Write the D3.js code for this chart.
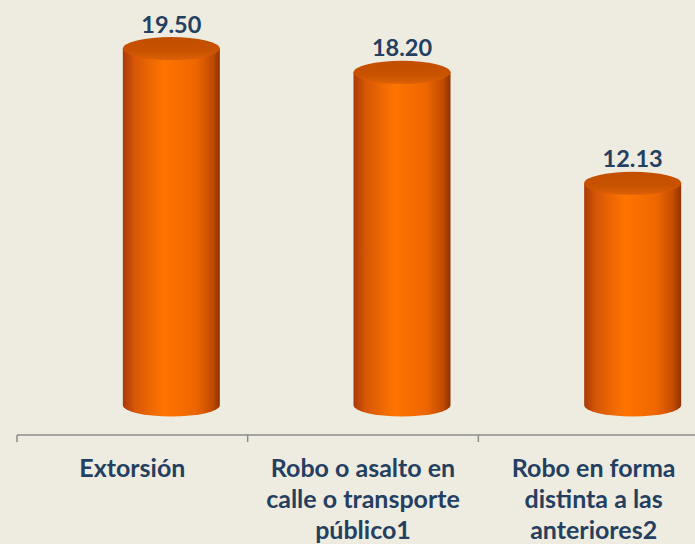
<!DOCTYPE html>
<html>
<head>
<meta charset="utf-8">
<script src="https://cdn.jsdelivr.net/npm/d3@7"></script>
<style>
  html, body { margin: 0; padding: 0; background: #EEEBE0; }
  svg { display: block; }
  .value { font-family: Lato, sans-serif; font-weight: bold; font-size: 23.5px; fill: #243F60; }
  .cat { font-family: Lato, sans-serif; font-weight: bold; font-size: 25px; fill: #243F60; }
</style>
</head>
<body>
<div id="chart"></div>
<script>
var width = 695,
    height = 544;

// data
var categories = ['Extorsión', 'Robo o asalto en calle o transporte público1', 'Robo en forma distinta a las anteriores2'];
var values = [19.50, 18.20, 12.13];
var catLines = [
    ['Extorsión'],
    ['Robo o asalto en', 'calle o transporte', 'público1'],
    ['Robo en forma', 'distinta a las', 'anteriores2']
];

var data = categories.map((c, i) => ({ cat: c, value: values[i], lines: catLines[i] }));

var svg = d3.select('#chart')
    .append('svg')
    .attr('width', width)
    .attr('height', height);

svg.append('rect')
    .attr('width', width)
    .attr('height', height)
    .attr('fill', '#EEEBE0');

var x = d3.scaleBand()
    .domain(categories)
    .range([17, 709])
    .padding(0);

var y = d3.scaleLinear()
    .domain([0, 20])
    .range([405, 39.4]);

var barW = 97,
    rx = barW / 2,
    ry = 11.5,
    shift = 39;   // 3d perspective offset of the cylinders

var cx = d => x(d.cat) + x.bandwidth() / 2 + shift;

var defs = svg.append('defs');

var sideGrad = defs.append('linearGradient')
    .attr('id', 'side')
    .attr('x1', '0%').attr('x2', '100%')
    .attr('y1', '0%').attr('y2', '0%');
[[0, '#A83A08'], [0.12, '#D65606'], [0.42, '#FF7400'], [0.75, '#EE6600'], [0.92, '#C24C00'], [1, '#8E3204']]
    .forEach(s => sideGrad.append('stop').attr('offset', s[0]).attr('stop-color', s[1]));

var topGrad = defs.append('linearGradient')
    .attr('id', 'topcap')
    .attr('x1', '0%').attr('x2', '0%')
    .attr('y1', '0%').attr('y2', '100%');
[[0, '#C24E00'], [0.6, '#C85200'], [1, '#DC6008']]
    .forEach(s => topGrad.append('stop').attr('offset', s[0]).attr('stop-color', s[1]));

var bars = svg.selectAll('g.bar')
    .data(data)
    .enter()
    .append('g')
    .attr('class', 'bar');

bars.append('path')
    .attr('fill', 'url(#side)')
    .attr('d', d => {
        var l = cx(d) - rx, r = cx(d) + rx, t = y(d.value), b = y(0);
        return 'M' + l + ',' + t + 'L' + l + ',' + b +
            'A' + rx + ',' + ry + ' 0 0 0 ' + r + ',' + b +
            'L' + r + ',' + t + 'Z';
    });

bars.append('ellipse')
    .attr('cx', cx)
    .attr('cy', d => y(d.value))
    .attr('rx', rx)
    .attr('ry', ry)
    .attr('fill', 'url(#topcap)');

bars.append('text')
    .attr('class', 'value')
    .attr('text-anchor', 'middle')
    .attr('x', cx)
    .attr('y', d => y(d.value) - 16)
    .text(d => d.value.toFixed(2));

// axis with ticks at the category boundaries
var axisY = 435;
var bounds = categories.map(c => x(c)).concat([x.range()[1]]);

svg.append('line')
    .attr('x1', x.range()[0])
    .attr('x2', x.range()[1])
    .attr('y1', axisY)
    .attr('y2', axisY)
    .attr('stroke', '#8C8C8C')
    .attr('stroke-width', 1.5);

svg.selectAll('line.tick')
    .data(bounds)
    .enter()
    .append('line')
    .attr('class', 'tick')
    .attr('x1', d => d)
    .attr('x2', d => d)
    .attr('y1', axisY)
    .attr('y2', axisY + 7)
    .attr('stroke', '#8C8C8C')
    .attr('stroke-width', 1.5);

var labels = svg.selectAll('text.cat')
    .data(data)
    .enter()
    .append('text')
    .attr('class', 'cat')
    .attr('text-anchor', 'middle');

labels.selectAll('tspan')
    .data(d => d.lines.map(l => ({ line: l, cat: d.cat })))
    .enter()
    .append('tspan')
    .attr('x', d => x(d.cat) + x.bandwidth() / 2)
    .attr('y', (d, i) => 477 + i * 31)
    .text(d => d.line);
</script>
</body>
</html>
